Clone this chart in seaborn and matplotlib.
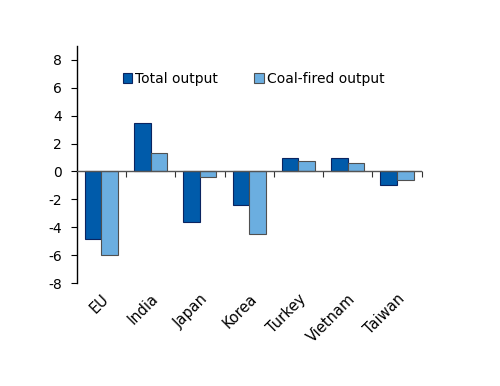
import matplotlib
matplotlib.use("Agg")
import matplotlib.pyplot as plt
import seaborn as sns
import pandas as pd
import numpy as np
from matplotlib.patches import Patch

categories = ["EU", "India", "Japan", "Korea", "Turkey", "Vietnam", "Taiwan"]
total_output = [-4.85, 3.5, -3.6, -2.4, 1.0, 1.0, -1.0]
coal_output = [-6.0, 1.3, -0.4, -4.5, 0.72, 0.58, -0.6]
series_names = ["Total output", "Coal-fired output"]
y_ticks = [-8, -6, -4, -2, 0, 2, 4, 6, 8]

dark = "#005BAA"
light = "#6BAEE0"

df = pd.DataFrame({
    "category": categories * 2,
    "value": total_output + coal_output,
    "series": [series_names[0]] * len(categories) + [series_names[1]] * len(categories),
})

sns.set_style("white")
plt.rcParams['font.family'] = ['DejaVu Sans']
plt.rcParams['text.color'] = 'black'
plt.rcParams['xtick.color'] = 'black'
plt.rcParams['ytick.color'] = 'black'

fig = plt.figure(figsize=(5, 3.86), dpi=100)
ax = fig.add_axes([0.1533, 0.2668, 0.69, 0.614])

sns.barplot(data=df, x="category", y="value", hue="series", order=categories,
            hue_order=series_names, palette=[dark, light], width=0.67,
            ax=ax, legend=False, saturation=1)

n = len(categories)
for i, p in enumerate(ax.patches[:2 * n]):
    if i < n:
        p.set_edgecolor("#0B2460")
    else:
        p.set_edgecolor("#505050")
    p.set_linewidth(0.8)

ax.set_ylim(-8, 9)
ax.set_xlim(-0.5, n - 0.5)
ax.set_yticks(y_ticks)
ax.set_yticklabels([str(t) for t in y_ticks], fontsize=10, color="black")
ax.set_xlabel("")
ax.set_ylabel("")

for s in ["top", "right", "bottom"]:
    ax.spines[s].set_visible(False)
ax.spines["left"].set_color("black")
ax.spines["left"].set_linewidth(1.0)
ax.tick_params(axis="y", direction="out", length=4, width=0.8, color="black", pad=6.5, left=True)
ax.tick_params(axis="x", length=0, pad=6)
plt.setp(ax.get_xticklabels(), rotation=45, ha="right", rotation_mode="anchor",
         fontsize=10.5, color="black")

ax.axhline(0, color="#555555", linewidth=1.0, zorder=3)
sec = ax.secondary_xaxis(8 / 17)
sec.set_xticks(np.arange(n) + 0.5)
sec.set_xticklabels([])
sec.tick_params(axis="x", direction="out", length=4, width=0.8, color="#333333")
sec.spines["bottom"].set_visible(False)

handles = [Patch(facecolor=dark, edgecolor="#0B2460", linewidth=0.8),
           Patch(facecolor=light, edgecolor="#505050", linewidth=0.8)]
ax.legend(handles, series_names, loc="center left", bbox_to_anchor=(0.113, 0.861),
          ncol=2, frameon=False, handlelength=0.7, handleheight=0.7,
          handletextpad=0.2, columnspacing=2.6, fontsize=10, borderpad=0)

fig.savefig("out.png", dpi=100)
